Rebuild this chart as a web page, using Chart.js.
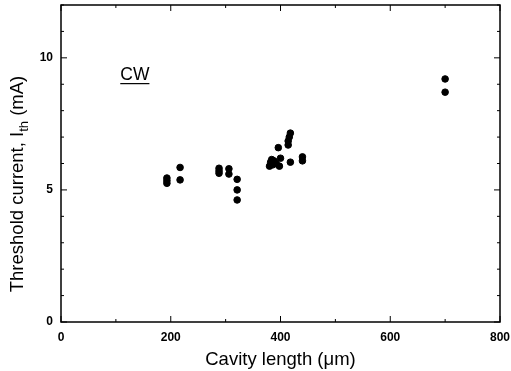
<!DOCTYPE html>
<html>
<head>
<meta charset="utf-8">
<script src="https://cdn.jsdelivr.net/npm/chart.js@4/dist/chart.umd.min.js"></script>
<style>
    html, body { margin: 0; padding: 0; background: #fff; }
    #wrap { width: 511px; height: 371px; }
</style>
</head>
<body>
<div id="wrap"><canvas id="chart" width="511" height="371"></canvas></div>
<script>
// Cavity length (um) and threshold current (mA)
const cavityLength = [193, 193, 193, 217, 217,
    288, 288, 288, 306, 306, 321, 321, 321,
    380, 382, 384, 386, 388, 392, 396, 398, 400,
    414, 414, 416, 418, 418, 440, 440,
    700, 700];
const thresholdCurrent = [5.45, 5.35, 5.25, 5.85, 5.38,
    5.82, 5.72, 5.63, 5.8, 5.6, 5.4, 5.0, 4.62,
    5.9, 6.05, 6.15, 5.95, 6.1, 6.0, 6.6, 5.9, 6.2,
    6.7, 6.85, 7.0, 7.15, 6.05, 6.1, 6.25,
    9.2, 8.7];
const xTicks = [0, 200, 400, 600, 800];
const yTicks = [0, 5, 10];

const points = cavityLength.map((x, i) => ({ x: x, y: thresholdCurrent[i] }));

// frame, inward ticks, axis titles and the CW note
const decorPlugin = {
    id: 'decor',
    afterDraw(chart) {
        const ctx = chart.ctx;
        const a = chart.chartArea;
        const xs = chart.scales.x;
        const ys = chart.scales.y;
        ctx.save();
        ctx.strokeStyle = '#000';
        ctx.lineWidth = 1.5;
        ctx.strokeRect(a.left, a.top, a.right - a.left, a.bottom - a.top);

        ctx.lineWidth = 1;
        ctx.beginPath();
        for (let v = 0; v <= 800; v += 100) {
            const px = xs.getPixelForValue(v);
            const len = v % 200 === 0 ? 6 : 3;
            ctx.moveTo(px, a.bottom); ctx.lineTo(px, a.bottom - len);
            ctx.moveTo(px, a.top); ctx.lineTo(px, a.top + len);
        }
        for (let v = 0; v <= 12; v += 1) {
            const py = ys.getPixelForValue(v);
            const len = v % 5 === 0 ? 6 : 3;
            ctx.moveTo(a.left, py); ctx.lineTo(a.left + len, py);
            ctx.moveTo(a.right, py); ctx.lineTo(a.right - len, py);
        }
        ctx.stroke();

        // y title with subscript
        ctx.fillStyle = '#000';
        ctx.translate(23, 184);
        ctx.rotate(-Math.PI / 2);
        const big = '18.5px "Liberation Sans", Arial, sans-serif';
        const small = '13px "Liberation Sans", Arial, sans-serif';
        const p1 = 'Threshold current, I';
        const p2 = 'th';
        const p3 = ' (mA)';
        ctx.font = big;
        const w1 = ctx.measureText(p1).width;
        const w3 = ctx.measureText(p3).width;
        ctx.font = small;
        const w2 = ctx.measureText(p2).width;
        let x0 = -(w1 + w2 + w3) / 2;
        ctx.textBaseline = 'alphabetic';
        ctx.font = big;
        ctx.fillText(p1, x0, 0);
        ctx.font = small;
        ctx.fillText(p2, x0 + w1, 5);
        ctx.font = big;
        ctx.fillText(p3, x0 + w1 + w2, 0);
        ctx.restore();

        // CW label, underlined
        ctx.save();
        ctx.fillStyle = '#000';
        ctx.font = '17.5px "Liberation Sans", Arial, sans-serif';
        ctx.textBaseline = 'alphabetic';
        const cx = xs.getPixelForValue(108);
        const cy = ys.getPixelForValue(9.16);
        ctx.fillText('CW', cx, cy);
        const cw = ctx.measureText('CW').width;
        ctx.fillRect(cx, cy + 3, cw, 1.2);
        ctx.restore();
    }
};

new Chart(document.getElementById('chart'), {
    type: 'scatter',
    data: {
        datasets: [{
            data: points,
            backgroundColor: '#000',
            borderColor: '#000',
            pointRadius: 3.3,
            pointHoverRadius: 3.3
        }]
    },
    options: {
        responsive: false,
        animation: false,
        layout: { padding: { top: 5, right: 11, left: 0, bottom: 0 } },
        plugins: {
            legend: { display: false },
            tooltip: { enabled: false }
        },
        scales: {
            x: {
                type: 'linear',
                min: 0,
                max: 800,
                afterFit: (s) => { s.height = 49; s.paddingLeft = 0; s.paddingRight = 0; },
                afterBuildTicks: (s) => { s.ticks = xTicks.map(v => ({ value: v })); },
                grid: { display: false, drawTicks: false },
                border: { display: false },
                ticks: {
                    padding: 8,
                    color: '#000',
                    font: { family: '"Liberation Sans", Arial, sans-serif', size: 12, weight: 'bold' }
                },
                title: {
                    display: true,
                    text: 'Cavity length (μm)',
                    color: '#000',
                    padding: { top: 3, bottom: 0 },
                    font: { family: '"Liberation Sans", Arial, sans-serif', size: 18.5 }
                }
            },
            y: {
                type: 'linear',
                min: 0,
                max: 12,
                afterFit: (s) => { s.width = 61; s.paddingTop = 0; s.paddingBottom = 0; },
                afterBuildTicks: (s) => { s.ticks = yTicks.map(v => ({ value: v })); },
                grid: { display: false, drawTicks: false },
                border: { display: false },
                ticks: {
                    padding: 8,
                    color: '#000',
                    font: { family: '"Liberation Sans", Arial, sans-serif', size: 12, weight: 'bold' }
                }
            }
        }
    },
    plugins: [decorPlugin]
});
</script>
</body>
</html>
